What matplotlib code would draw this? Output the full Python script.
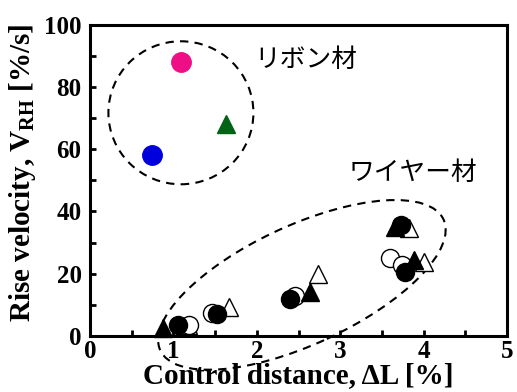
import matplotlib
matplotlib.use("Agg")
import matplotlib.pyplot as plt
from matplotlib.patches import Ellipse
from matplotlib.transforms import IdentityTransform
from matplotlib.ticker import MultipleLocator

# ---- data ----
ribbon_magenta_x = [1.09]
ribbon_magenta_y = [88.0]
ribbon_blue_x = [0.74]
ribbon_blue_y = [58.0]
ribbon_green_x = [1.63]
ribbon_green_y = [68.0]

wire_open_tri_x = [1.17, 1.67, 2.73, 3.82, 4.00]
wire_open_tri_y = [3.6, 9.2, 19.9, 34.6, 23.9]
wire_open_circ_x = [1.19, 1.46, 2.46, 3.60, 3.74]
wire_open_circ_y = [3.5, 7.3, 12.9, 25.0, 22.8]
wire_fill_tri_x = [0.88, 2.64, 3.65, 3.88]
wire_fill_tri_y = [2.5, 14.0, 35.0, 24.4]
wire_fill_circ_x = [1.06, 1.52, 2.40, 3.73, 3.77]
wire_fill_circ_y = [3.5, 7.1, 11.8, 35.7, 20.7]

ribbon_label = "リボン材"
wire_label = "ワイヤー材"
xlabel = "Control distance, ΔL [%]"
ylabel = r"Rise velocity, V$_{\mathbf{RH}}$ [%/s]"
xticks = [0, 1, 2, 3, 4, 5]
yticks = [0, 20, 40, 60, 80, 100]

plt.rcParams["mathtext.fontset"] = "custom"
plt.rcParams["mathtext.rm"] = "Liberation Serif:bold"
plt.rcParams["mathtext.bf"] = "Liberation Serif:bold"

fig = plt.figure(figsize=(5.17, 3.92), dpi=100)
ax = fig.add_axes([0.174, 0.143, 0.807, 0.794])
ax.set_xlim(0, 5)
ax.set_ylim(0, 100)

ms = 13
ax.plot(wire_open_tri_x, wire_open_tri_y, ls="none", marker="^", ms=ms,
        mfc="white", mec="black", mew=1.0, clip_on=False, zorder=3)
ax.plot(wire_open_circ_x, wire_open_circ_y, ls="none", marker="o", ms=ms,
        mfc="white", mec="black", mew=1.0, clip_on=False, zorder=3)
ax.plot(wire_fill_tri_x, wire_fill_tri_y, ls="none", marker="^", ms=ms,
        mfc="black", mec="black", clip_on=False, zorder=3)
ax.plot(wire_fill_circ_x, wire_fill_circ_y, ls="none", marker="o", ms=ms,
        mfc="black", mec="black", clip_on=False, zorder=3)

ax.plot(ribbon_magenta_x, ribbon_magenta_y, ls="none", marker="o", ms=14,
        mfc="#EE0E86", mec="#EE0E86", zorder=3)
ax.plot(ribbon_blue_x, ribbon_blue_y, ls="none", marker="o", ms=14,
        mfc="#0000DD", mec="#0000DD", zorder=3)
ax.plot(ribbon_green_x, ribbon_green_y, ls="none", marker="^", ms=13,
        mfc="#006414", mec="#006414", zorder=3)

# enclosing dashed outlines (display-pixel geometry)
fig.canvas.draw()
cx, cy = ax.transData.transform((1.09, 71.7))
ax.add_artist(Ellipse((cx, cy), 145, 143, angle=0, transform=IdentityTransform(),
                      fill=False, ls=(0, (4, 3)), lw=1.5, ec="black", clip_on=False))
ex, ey = ax.transData.transform((2.54, 16.4))
ax.add_artist(Ellipse((ex, ey), 312, 119, angle=24.8, transform=IdentityTransform(),
                      fill=False, ls=(0, (4, 3)), lw=1.5, ec="black", clip_on=False))

ax.text(2.59, 88.7, ribbon_label, fontsize=18.5, family="Noto Sans CJK JP",
        ha="center", va="center")
ax.text(3.87, 52.4, wire_label, fontsize=18.5, family="Noto Sans CJK JP",
        ha="center", va="center")

ax.set_xticks(xticks)
ax.set_yticks(yticks)
ax.xaxis.set_minor_locator(MultipleLocator(0.5))
ax.yaxis.set_minor_locator(MultipleLocator(10))
ax.tick_params(which="both", direction="in", length=4, width=2,
               top=False, right=False)
ax.tick_params(axis="x", pad=3)
ax.tick_params(axis="y", pad=6)
for lab in ax.get_xticklabels() + ax.get_yticklabels():
    lab.set_fontfamily("Liberation Serif")
    lab.set_fontweight("bold")
    lab.set_fontsize(18)
for s in ax.spines.values():
    s.set_linewidth(2.2)

ax.set_xlabel(xlabel, fontfamily="Liberation Serif", fontweight="bold",
              fontsize=21, labelpad=-1)
ax.set_ylabel(ylabel, fontfamily="Liberation Serif", fontweight="bold",
              fontsize=21)
ax.yaxis.set_label_coords(-0.125, 0.525)

fig.savefig("out.png", dpi=100)
